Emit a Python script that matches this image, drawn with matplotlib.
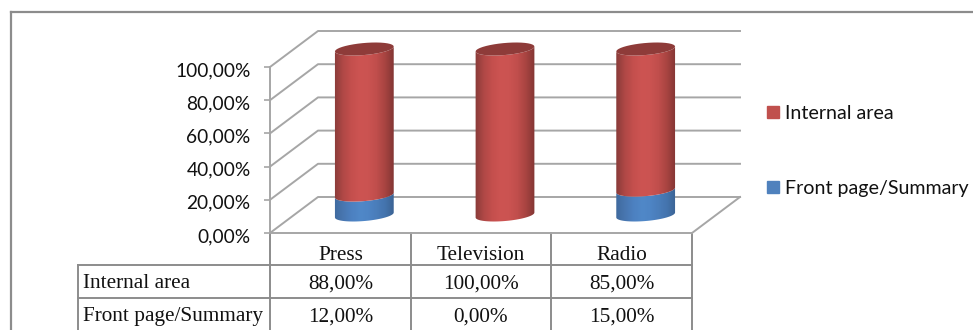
import numpy as np
import matplotlib
matplotlib.use("Agg")
import matplotlib.pyplot as plt
from matplotlib.patches import Patch, PathPatch
from matplotlib.path import Path
from matplotlib.colors import LinearSegmentedColormap
from matplotlib.transforms import ScaledTranslation

categories = ["Press", "Television", "Radio"]
internal_area = [88, 100, 85]
front_page = [12, 0, 15]
y_ticks = [0, 20, 40, 60, 80, 100]
series_names = ["Internal area", "Front page/Summary"]
internal_labels = ["88,00%", "100,00%", "85,00%"]
front_labels = ["12,00%", "0,00%", "15,00%"]

W, H = 973, 330
GRID = "#a6a6a6"
LINE = "#8c8c8c"
sans = "Lato"
serif = "Liberation Serif"

# the front plane of the fake 3d box is the real axes
fig = plt.figure(figsize=(W / 100, H / 100), dpi=100)
ax = fig.add_axes([270 / W, (H - 233) / H, 422 / W, 166 / H])
ax.set_xlim(0, 3)
ax.set_ylim(0, 100)
ax.patch.set_alpha(0)

# sizes in data units per pixel, depth of the box
ux = 3 / 422
uy = 100 / 166
dx = 48 * ux
dy = 36 * uy

# walls and gridlines
for v in y_ticks:
    ax.plot([0, dx, 3 + dx], [v, v + dy, v + dy], color=GRID, lw=1.4, clip_on=False, zorder=1)
ax.plot([3, 3 + dx], [0, dy], color=GRID, lw=1.4, clip_on=False, zorder=1)


def arc(cx, cy, t0, t1, n=40):
    # tilted ellipse for the cylinder caps
    t = np.linspace(t0, t1, n)
    a, b, tilt = 29.5, 6.0, np.radians(5)
    px = a * np.cos(t) * np.cos(tilt) - b * np.sin(t) * np.sin(tilt)
    py = a * np.cos(t) * np.sin(tilt) + b * np.sin(t) * np.cos(tilt)
    return np.column_stack([cx + px * ux, cy + py * uy])


def segment(i, low, high, colors):
    # one piece of the cylinder, shaded from side to side
    cx = i + 0.5 + dx / 2
    lower = arc(cx, low + dy / 2, np.pi, 2 * np.pi)
    upper = arc(cx, high + dy / 2, 2 * np.pi, np.pi)
    pts = np.vstack([lower, upper, lower[:1]])
    clip = PathPatch(Path(pts), transform=ax.transData, fc="none", ec="none")
    ax.add_patch(clip)
    cmap = LinearSegmentedColormap.from_list("c", colors)
    im = ax.imshow(np.linspace(0, 1, 64).reshape(1, -1), cmap=cmap, aspect="auto",
                   extent=[cx - 30 * ux, cx + 30 * ux, 0, 130], zorder=3)
    im.set_clip_path(clip)
    im.set_clip_box(fig.bbox)


reds = ["#8a3b39", "#b04846", "#c44f4d", "#cd5452", "#cb5351", "#c04e4c", "#a84441", "#843634"]
blues = ["#3f6a9e", "#4876b0", "#4c80c0", "#5088c8", "#4e85c5", "#4a7dba", "#4474ae", "#3b6495"]
for i in range(len(categories)):
    if front_page[i] > 0:
        segment(i, 0, front_page[i], blues)
    segment(i, front_page[i], front_page[i] + internal_area[i], reds)
    top = PathPatch(Path(arc(i + 0.5 + dx / 2, 100 + dy / 2, 0, 2 * np.pi)),
                    fc="#8e3b39", ec="none", zorder=4, clip_on=False)
    ax.add_patch(top)

ax.set_xlim(0, 3)
ax.set_ylim(0, 100)
ax.set_xticks([])
ax.set_yticks(y_ticks)
ax.set_yticklabels(["%d,00%%" % v for v in y_ticks], fontfamily=sans, fontsize=13.8, color="#111111")
ax.tick_params(axis="y", length=4, width=1.2, color=GRID, pad=10)
# labels sit a little under their ticks in the original
nudge = ScaledTranslation(0, -2 / 100, fig.dpi_scale_trans)
for lab in ax.get_yticklabels():
    lab.set_transform(lab.get_transform() + nudge)
for s in ["top", "right"]:
    ax.spines[s].set_visible(False)
for s in ["left", "bottom"]:
    ax.spines[s].set_color(GRID)
    ax.spines[s].set_linewidth(1.4)

# frame and data table live on an overlay in pixels of the page
ov = fig.add_axes([0, 0, 1, 1], zorder=-1)
ov.set_xlim(0, W)
ov.set_ylim(H, 0)
ov.axis("off")
ov.plot([11, 11], [H, 12], color=LINE, lw=1.6)
ov.plot([11, W], [12, 12], color=LINE, lw=1.6)

col_x = [270, 411, 551, 692]
row_y = [233, 265, 298]
for x in col_x:
    ov.plot([x, x], [233, H], color=LINE, lw=1.4)
ov.plot([78, 78], [265, H], color=LINE, lw=1.4)
for y in row_y[1:]:
    ov.plot([78, 692], [y, y], color=LINE, lw=1.4)

table_rows = [(series_names[0], internal_labels), (series_names[1], front_labels)]
for j, cat in enumerate(categories):
    ov.text((col_x[j] + col_x[j + 1]) / 2, 259.5, cat, ha="center", va="baseline",
            family=serif, fontsize=15.3, color="#111111")
for r, (name, labels) in enumerate(table_rows):
    base = 288.5 + r * 33
    ov.text(83, base, name, ha="left", va="baseline", family=serif, fontsize=15.3, color="#111111")
    for j, lab in enumerate(labels):
        ov.text((col_x[j] + col_x[j + 1]) / 2, base, lab, ha="center", va="baseline",
                family=serif, fontsize=15.3, color="#111111")

handles = [Patch(color="#c0504d", label=series_names[0]), Patch(color="#4f81bd", label=series_names[1])]
fig.legend(handles=handles, loc="upper left", bbox_to_anchor=(767 / W, 1 - 105 / H), frameon=False,
           prop={"family": sans, "size": 14.1}, handlelength=0.62, handleheight=0.62,
           handletextpad=0.32, labelspacing=2.95, borderpad=0, borderaxespad=0, labelcolor="#111111")

fig.savefig("out.png", dpi=100)
